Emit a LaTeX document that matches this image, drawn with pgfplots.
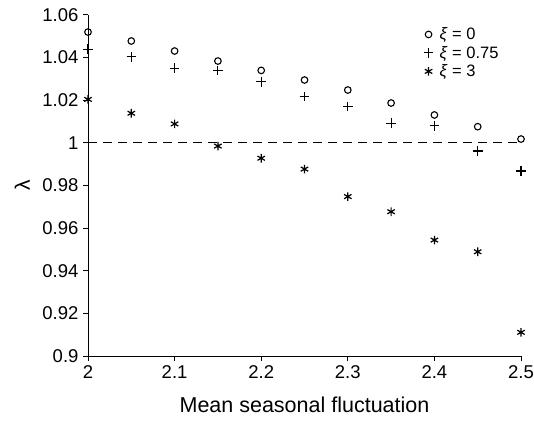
\documentclass[border=0pt]{standalone}
\usepackage{fontspec}
\setmainfont{Liberation Sans}
\usepackage{pgfplots}
\pgfplotsset{compat=1.18}
\begin{document}
\begin{tikzpicture}
\begin{axis}[
  scale only axis,
  width=433pt, height=341pt,
  xmin=2, xmax=2.5, ymin=0.9, ymax=1.06,
  axis x line*=bottom, axis y line*=left,
  axis line style={line width=1pt, -},
  xtick={2,2.1,2.2,2.3,2.4,2.5},
  ytick={0.9,0.92,0.94,0.96,0.98,1,1.02,1.04,1.06},
  tick align=outside, major tick length=5pt,
  tick style={line width=1pt, black},
  /pgf/number format/assume math mode=true,
  ticklabel style={font=\fontsize{18.5}{21}\selectfont},
  yticklabel style={xshift=-1pt},
  xticklabel style={yshift=-1pt},
  xlabel={Mean seasonal fluctuation},
  xlabel style={font=\fontsize{21.5}{24}\selectfont, at={(axis description cs:0.5,-0.167)}, anchor=base},
  ylabel={λ},
  ylabel style={font=\fontsize{21}{24}\selectfont, at={(axis description cs:-0.152,0.5)}, anchor=center},
  clip=false,
  legend style={draw=none, fill=none, font=\fontsize{16.5}{18}\selectfont,
    at={(rel axis cs:0.768,0.975)}, anchor=north west,
    legend cell align=left, row sep=1pt},
  legend image code/.code={\path[draw=none,fill=none] (0pt,0pt) -- (12pt,0pt); \draw[#1] plot coordinates {(3pt,0pt)};},
]
\addplot[only marks, mark=o, mark size=3.3pt, line width=1.1pt, black] coordinates {
(2.00,1.0520) (2.05,1.0478) (2.10,1.0431) (2.15,1.0384) (2.20,1.0340)
(2.25,1.0295) (2.30,1.0248) (2.35,1.0187) (2.40,1.0131) (2.45,1.0076) (2.50,1.0018)};
\addlegendentry{\textit{ξ} = 0}
\addplot[only marks, mark=+, mark size=4.8pt, line width=1.1pt, black] coordinates {
(2.00,1.0440) (2.05,1.0404) (2.10,1.0350) (2.15,1.0339) (2.20,1.0287)
(2.25,1.0218) (2.30,1.0170) (2.35,1.0092) (2.40,1.0080) (2.45,0.9962) (2.50,0.9868)};
\addlegendentry{\textit{ξ} = 0.75}
\addplot[only marks, mark=asterisk, mark size=4.3pt, line width=1.2pt, black] coordinates {
(2.00,1.0204) (2.05,1.0139) (2.10,1.0089) (2.15,0.9985) (2.20,0.9928)
(2.25,0.9877) (2.30,0.9748) (2.35,0.9677) (2.40,0.9544) (2.45,0.9489) (2.50,0.9111)};
\addlegendentry{\textit{ξ} = 3}
\addplot[black, line width=1pt, dash pattern=on 9pt off 6pt, forget plot] coordinates {(2,1) (2.5,1)};
\coordinate (ll) at (rel axis cs:0,0);
\coordinate (ur) at (rel axis cs:1,1);
\end{axis}
\pgfresetboundingbox
\path[use as bounding box] ([xshift=-88pt,yshift=-64pt]ll) rectangle ([xshift=13pt,yshift=15pt]ur);
\end{tikzpicture}
\end{document}
